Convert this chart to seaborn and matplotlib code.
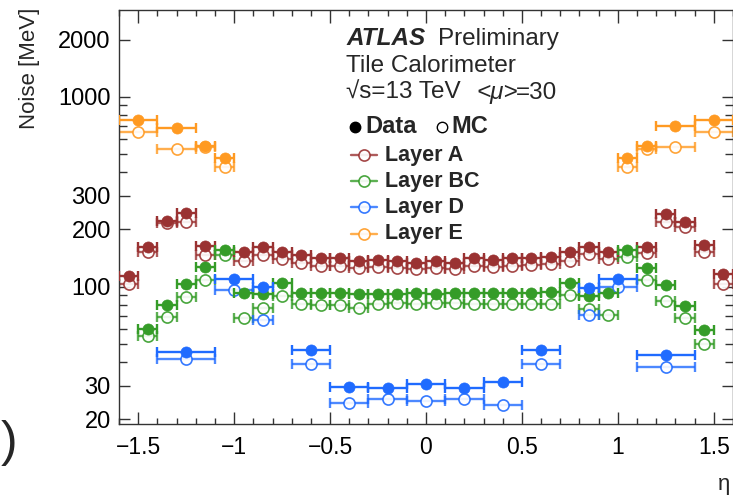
import matplotlib
matplotlib.use("Agg")
import matplotlib.pyplot as plt
import seaborn as sns
import numpy as np
from matplotlib.ticker import FixedLocator, FixedFormatter, NullFormatter

# ---------------- data ----------------
eta_A = [-1.55, -1.45, -1.35, -1.25, -1.15,
         -0.95, -0.85, -0.75, -0.65, -0.55, -0.45, -0.35, -0.25, -0.15, -0.05,
         0.05, 0.15, 0.25, 0.35, 0.45, 0.55, 0.65, 0.75, 0.85, 0.95,
         1.15, 1.25, 1.35, 1.45, 1.55]
hw_A = [0.05] * 30
data_A = [114, 162, 222, 243, 164,
          152, 161, 152, 146, 142, 142, 136, 138, 136, 133,
          137, 133, 141, 138, 142, 142, 144, 152, 162, 152,
          162, 241, 218, 166, 117]
mc_A = [103, 152, 216, 219, 147,
        137, 147, 140, 133, 129, 129, 125, 127, 125, 124,
        126, 124, 129, 127, 129, 130, 131, 136, 149, 139,
        150, 220, 207, 153, 103]

eta_BC = [-1.45, -1.35, -1.25, -1.15, -1.05,
          -0.95, -0.85, -0.75, -0.65, -0.55, -0.45, -0.35, -0.25, -0.15, -0.05,
          0.05, 0.15, 0.25, 0.35, 0.45, 0.55, 0.65, 0.75, 0.85, 0.95,
          1.05, 1.15, 1.25, 1.35, 1.45]
hw_BC = [0.05] * 30
data_BC = [60, 80, 103, 127, 155,
           92, 91, 105, 93, 93, 93, 91, 91, 91, 92,
           91, 93, 92, 92, 92, 92, 94, 104, 89, 93,
           155, 126, 102, 79, 59]
mc_BC = [55, 69, 88, 108, 146,
         68, 77, 89, 81, 80, 80, 77, 81, 82, 81,
         82, 82, 81, 81, 81, 81, 81, 90, 76, 71,
         144, 108, 84, 68, 50]

eta_D = [-1.25, -1.0, -0.85, -0.6, -0.4, -0.2, 0.0, 0.2, 0.4, 0.6, 0.85, 1.0, 1.25]
hw_D = [0.15, 0.1, 0.05, 0.1, 0.1, 0.1, 0.1, 0.1, 0.1, 0.1, 0.05, 0.1, 0.15]
data_D = [45, 109, 99, 46.4, 29.6, 29.4, 30.6, 29.4, 31.4, 46.4, 98, 110, 43.7]
mc_D = [41.5, 96, 67, 39, 24.3, 25.5, 24.9, 25.5, 23.9, 39, 71, 99, 37.5]

eta_E = [-1.5, -1.3, -1.15, -1.05, 1.05, 1.15, 1.3, 1.5]
hw_E = [0.1, 0.1, 0.05, 0.05, 0.05, 0.05, 0.1, 0.1]
data_E = [754, 684, 552, 474, 474, 552, 704, 751]
mc_E = [652, 530, 542, 428, 428, 529, 545, 652]

layer_names = ["Layer A", "Layer BC", "Layer D", "Layer E"]
colors = ["#9a3232", "#359c28", "#1f6bff", "#ff9a22"]

x_ticks = [-1.5, -1.0, -0.5, 0.0, 0.5, 1.0, 1.5]
x_tick_labels = ["\u22121.5", "\u22121", "\u22120.5", "0", "0.5", "1", "1.5"]
y_ticks = [20, 30, 100, 200, 300, 1000, 2000]
y_tick_labels = ["20", "30", "100", "200", "300", "1000", "2000"]

# ---------------- style ----------------
sns.set_theme(style="ticks")
plt.rcParams['font.family'] = ['Liberation Sans', 'DejaVu Sans']

W, H = 733, 496
fig = plt.figure(figsize=(W / 100, H / 100), dpi=100)
ax = fig.add_axes([119.1 / W, 1 - 424 / H, 613.8 / W, 414 / H])
ax.set_yscale('log')

layers = [
    (eta_A, hw_A, data_A, mc_A),
    (eta_BC, hw_BC, data_BC, mc_BC),
    (eta_D, hw_D, data_D, mc_D),
    (eta_E, hw_E, data_E, mc_E),
]

ms = 8.0
# MC first (open markers)
for (eta, hw, dat, mc), c in zip(layers, colors):
    ax.errorbar(eta, mc, xerr=hw, fmt='none', ecolor=c, elinewidth=1.7,
                capsize=3.5, capthick=1.7, alpha=0.8, zorder=2)
    sns.scatterplot(x=eta, y=mc, ax=ax, s=ms ** 2, color='white',
                    edgecolor=c, linewidth=1.2, alpha=0.9, zorder=3, legend=False)
# Data (filled markers)
for (eta, hw, dat, mc), c in zip(layers, colors):
    ax.errorbar(eta, dat, xerr=hw, fmt='none', ecolor=c, elinewidth=1.7,
                capsize=3.5, capthick=1.7, zorder=4)
    sns.scatterplot(x=eta, y=dat, ax=ax, s=ms ** 2, color=c,
                    edgecolor=c, linewidth=0.5, zorder=5, legend=False)

ax.set_xlim(-1.6, 1.6)
ax.set_ylim(18.9, 2860)

ax.xaxis.set_major_locator(FixedLocator(x_ticks))
ax.xaxis.set_major_formatter(FixedFormatter(x_tick_labels))
ax.xaxis.set_minor_locator(FixedLocator(np.round(np.arange(-1.6, 1.61, 0.1), 2)))
ax.yaxis.set_major_locator(FixedLocator(y_ticks))
ax.yaxis.set_major_formatter(FixedFormatter(y_tick_labels))
minor_y = [40, 50, 60, 70, 80, 90, 400, 500, 600, 700, 800, 900]
ax.yaxis.set_minor_locator(FixedLocator(minor_y))
ax.yaxis.set_minor_formatter(NullFormatter())

ax.tick_params(which='both', direction='in', top=True, right=True,
               width=1.0, color='#333333', labelcolor='black')
ax.tick_params(axis='x', which='major', length=9, pad=8.5, labelsize=16.5)
ax.tick_params(axis='x', which='minor', length=4.5)
ax.tick_params(axis='y', which='major', length=8, pad=6, labelsize=17)
ax.tick_params(axis='y', which='minor', length=5.5)
for sp in ax.spines.values():
    sp.set_color('#333333')
    sp.set_linewidth(1.0)
ax.set_xlabel('')
ax.set_ylabel('')

# ---------------- overlay texts / legend ----------------
ov = fig.add_axes([0, 0, 1, 1], facecolor='none')
ov.set_xlim(0, W)
ov.set_ylim(H, 0)
ov.axis('off')
ov.set_zorder(10)

ov.text(30, 8, 'Noise [MeV]', rotation=90, ha='center', va='top', fontsize=16)
ov.text(730, 490, '\u03b7', ha='right', va='baseline', fontsize=16)
ov.text(0.5, 443, ')', ha='left', va='center', fontsize=36, fontweight='light')

x0 = 346.5
ov.text(x0, 45, 'ATLAS', fontsize=17.5, fontweight='bold', fontstyle='italic', va='baseline')
ov.text(438, 45, 'Preliminary', fontsize=17.5, va='baseline')
ov.text(x0, 72, 'Tile Calorimeter', fontsize=17.5, va='baseline')
ov.text(x0, 99, '\u221as=13 TeV', fontsize=17.5, va='baseline')
ov.text(476, 99, '<\u03bc>', fontsize=17.5, fontstyle='italic', va='baseline')
ov.text(516, 99, '=30', fontsize=17.5, va='baseline')

ov.plot([355], [126.5], 'o', ms=7.5, color='black')
ov.text(365, 133, 'Data', fontsize=17, fontweight='bold', va='baseline')
ov.plot([441.5], [126.5], 'o', ms=7.5, mfc='white', mec='black', mew=1.0)
ov.text(451.5, 133, 'MC', fontsize=17, fontweight='bold', va='baseline')

baselines = [160.7, 186.7, 212.7, 239]
for name, c, b in zip(layer_names, colors, baselines):
    yc = b - 5.5
    ov.plot([350.5, 377], [yc, yc], color=c, lw=1.7, alpha=0.8)
    ov.plot([364], [yc], 'o', ms=8, mfc='white', mec=c, mew=1.2, alpha=0.9)
    ov.text(385, b, name, fontsize=15.5, fontweight='bold', va='baseline')

fig.savefig('out.png', dpi=100)
